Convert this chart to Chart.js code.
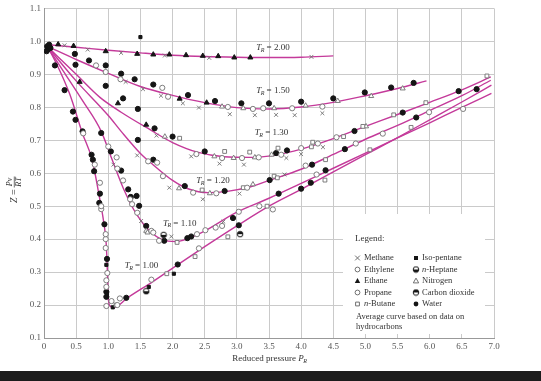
<!DOCTYPE html>
<html><head><meta charset="utf-8">
<script src="https://cdn.jsdelivr.net/npm/chart.js@4.4.1/dist/chart.umd.min.js"></script>
<style>
html,body{margin:0;padding:0;background:#fff;}
#wrap{width:541px;height:371px;background:#fff;}
#bar{width:541px;height:10px;background:#1c1c1c;}
</style></head><body>
<div id="wrap"><canvas id="c" width="541" height="371"></canvas></div>
<div id="bar"></div>
<script>
// ---- curve data (reduced pressure P_R, compressibility Z) ----
const trLabels = ['2.00','1.50','1.30','1.20','1.10','1.00'];
const tr200P = [0.05,0.5,1.0,1.5,2.0,2.5,3.0,3.5,4.0,4.5];
const tr200Z = [0.99,0.982,0.973,0.965,0.958,0.954,0.952,0.951,0.952,0.956];
const tr150P = [0.05,0.5,1.0,1.5,2.0,2.5,3.0,3.5,4.0,4.5,5.0,5.5,5.95];
const tr150Z = [0.985,0.945,0.903,0.863,0.836,0.814,0.799,0.795,0.801,0.815,0.835,0.857,0.88];
const tr130P = [0.05,0.5,0.87,1.2,1.65,2.0,2.4,2.8,3.2,3.6,4.0,4.5,5.0,5.5,6.0,6.5,6.95];
const tr130Z = [0.985,0.9,0.83,0.785,0.732,0.693,0.663,0.65,0.648,0.655,0.673,0.705,0.742,0.778,0.815,0.853,0.892];
const tr120P = [0.05,0.5,1.0,1.2,1.5,1.7,2.0,2.25,2.55,2.85,3.2,3.5,4.0,4.5,5.0,5.5,6.0,6.5,6.95];
const tr120Z = [0.985,0.88,0.775,0.727,0.66,0.625,0.578,0.552,0.541,0.545,0.558,0.578,0.612,0.657,0.703,0.745,0.79,0.835,0.882];
const tr110P = [0.05,0.3,0.6,0.89,1.05,1.23,1.44,1.645,1.85,2.05,2.42,3.0,3.5,4.0,4.5,5.0,5.5,6.0,6.5,6.96];
const tr110Z = [0.985,0.91,0.82,0.727,0.646,0.556,0.475,0.425,0.398,0.393,0.417,0.482,0.524,0.569,0.615,0.661,0.707,0.753,0.8,0.842];
const tr100P = [0.05,0.2,0.4,0.6,0.75,0.85,0.93,0.97,0.99,1.0,1.03,1.08,1.3,1.7,2.1,2.5,3.0,3.5,4.0,4.5,5.0,5.5,6.0,6.5,6.96];
const tr100Z = [0.985,0.93,0.84,0.72,0.64,0.54,0.45,0.38,0.28,0.22,0.197,0.192,0.222,0.272,0.325,0.377,0.44,0.5,0.551,0.604,0.656,0.708,0.762,0.816,0.867];

// ---- measured data points [P_R, Z] ----
const seriesNames = ['Methane','Ethylene','Ethane','Propane','n-Butane','Iso-pentane','n-Heptane','Nitrogen','Carbon dioxide','Water'];
const methane = [[0.32,0.988],[0.68,0.975],[1.2,0.965],[1.88,0.957],[2.57,0.95],[4.16,0.953],
 [1.27,0.877],[1.54,0.855],[1.82,0.835],[2.16,0.812],[2.41,0.799],[2.89,0.779],[3.28,0.776],[3.61,0.777],[3.9,0.776],[4.33,0.782],
 [1.75,0.714],[2.29,0.651],[2.73,0.629],[3.11,0.626],[3.77,0.646],[4.0,0.658],[4.34,0.679],
 [1.45,0.654],[1.95,0.556],[2.47,0.521],[3.04,0.538],[3.74,0.596],
 [1.08,0.626],[1.51,0.455],[1.98,0.408],[2.79,0.453]];
const ethylene = [[0.81,0.927],[1.19,0.885],[1.84,0.859],[2.86,0.801],[3.41,0.797],[4.33,0.802],
 [2.37,0.658],[2.77,0.646],[3.08,0.646],[3.34,0.648],[3.69,0.656],[4.26,0.69],[4.55,0.709],
 [1.62,0.636],[2.32,0.541],[2.68,0.539],[3.16,0.556],[4.07,0.623],[4.85,0.69],[5.99,0.785],
 [1.0,0.681],[1.14,0.614],[1.37,0.506],[1.7,0.42],[2.38,0.415],[2.67,0.435],[3.03,0.483],
 [0.61,0.721],[0.79,0.626],[0.89,0.5],[0.96,0.415],[0.96,0.373],[0.97,0.275],[0.97,0.197],[1.14,0.2]];
const ethane = [[0.22,0.991],[0.46,0.986],[0.96,0.97],[1.45,0.962],[1.7,0.96],[1.95,0.96],[2.21,0.958],[2.47,0.956],[2.71,0.955],[2.96,0.951],[3.21,0.951],
 [2.11,0.826],[2.53,0.814],[1.15,0.812],[1.59,0.747],[0.555,0.877]];
const propane = [[0.96,0.907],[1.93,0.832],[3.25,0.795],[3.86,0.797],[4.0,0.676],[1.76,0.632],[1.85,0.591],[5.27,0.72],
 [1.13,0.648],[1.23,0.578],[1.34,0.521],[1.45,0.48],[1.67,0.425],[1.79,0.395],[2.51,0.427],[2.77,0.44],[4.24,0.596],[6.52,0.795],
 [0.87,0.571],[0.89,0.491],[0.96,0.4],[0.985,0.297],[0.97,0.255],[1.05,0.212],[1.18,0.22],[1.67,0.277],[2.41,0.372],[3.35,0.5],[3.56,0.49]];
const nButane = [[2.11,0.706],[2.81,0.666],[3.2,0.664],[3.64,0.676],[4.16,0.68],[4.18,0.694],[4.66,0.711],[4.96,0.742],[5.44,0.777],[5.94,0.814],[6.89,0.895],
 [2.46,0.549],[3.1,0.556],[3.58,0.591],[3.63,0.586],[4.38,0.641],
 [2.07,0.39],[2.86,0.407],[1.91,0.295],[2.35,0.347],[3.47,0.5],[4.37,0.579],[5.07,0.671],[5.71,0.739],[1.12,0.2]];
const isoPentane = [[1.5,1.013],[0.97,0.322],[1.07,0.193],[1.63,0.255],[2.02,0.295],[0.98,0.235]];
const nHeptane = [[1.86,0.413],[1.59,0.242]];
const nitrogen = [[2.77,0.802],[3.1,0.797],[3.58,0.797],[4.07,0.805],[4.57,0.819],[5.09,0.834],[5.58,0.857],
 [1.88,0.711],[2.65,0.651],[2.95,0.646],[3.28,0.648],[3.54,0.656],[5.01,0.742],
 [2.1,0.554],[2.58,0.539],[3.25,0.566],[1.59,0.425],[1.61,0.42]];
const carbonDioxide = [[3.05,0.415]];
const water = [[0.05,0.985],[0.06,0.975],[0.08,0.99],[0.1,0.98],[0.04,0.97],
 [0.48,0.962],[0.7,0.942],[0.96,0.927],[1.2,0.902],[1.41,0.885],[1.7,0.869],[2.24,0.837],[2.66,0.819],[3.07,0.812],[3.5,0.812],[4.0,0.817],[4.5,0.827],[4.99,0.845],[5.4,0.86],[5.75,0.874],
 [0.96,0.865],[1.23,0.827],[1.46,0.795],[1.72,0.736],[2.0,0.711],[2.5,0.666],[3.61,0.661],[3.78,0.669],[4.83,0.728],[5.58,0.784],[6.45,0.849],
 [0.49,0.929],[1.46,0.701],[1.7,0.641],[2.19,0.561],[2.81,0.546],[3.51,0.579],[4.17,0.626],[4.68,0.673],[5.79,0.769],
 [0.89,0.722],[1.04,0.666],[1.2,0.608],[1.31,0.551],[1.35,0.528],[1.44,0.531],[1.48,0.501],[1.59,0.44],[1.87,0.395],[2.23,0.403],[2.29,0.408],[2.94,0.464],[3.65,0.538],[4.15,0.571],[4.38,0.609],[6.73,0.855],
 [0.17,0.927],[0.32,0.852],[0.45,0.787],[0.49,0.762],[0.6,0.727],[0.74,0.656],[0.76,0.641],[0.78,0.606],[0.86,0.51],[0.87,0.538],[0.94,0.445],[0.98,0.34],[0.97,0.24],[0.97,0.225],[1.28,0.222],[2.08,0.323],[3.03,0.442],[4.0,0.553]];

// ---- styling ----
const SERIF = '"Liberation Serif","Times New Roman",serif';
const CURVE = '#c43a9a';
const DARK = '#151515';
const GREY = '#707070';

function halfCircle(fillTop){
  const c = document.createElement('canvas'); c.width = 8; c.height = 8;
  const g = c.getContext('2d');
  g.beginPath(); g.arc(4,4,2.8,0,Math.PI*2); g.fillStyle='#fff'; g.fill();
  g.beginPath();
  if (fillTop) g.arc(4,4,2.8,Math.PI,0); else g.arc(4,4,2.8,0,Math.PI);
  g.closePath(); g.fillStyle=DARK; g.fill();
  g.beginPath(); g.arc(4,4,2.8,0,Math.PI*2); g.strokeStyle=DARK; g.lineWidth=1; g.stroke();
  return c;
}
const heptImg = halfCircle(false);
const co2Img = halfCircle(true);

const pts = a => a.map(p => ({x:p[0], y:p[1]}));
const zip = (P,Z) => P.map((p,i)=>({x:p,y:Z[i]}));

function curve(P,Z){
  return {data:zip(P,Z), showLine:true, borderColor:CURVE, borderWidth:1.4, pointRadius:0,
    cubicInterpolationMode:'monotone', fill:false, order:2};
}
function scat(arr, style, bg, border, r, bw){
  return {data:pts(arr), showLine:false, pointStyle:style, pointBackgroundColor:bg, pointBorderColor:border,
    pointRadius:r, pointBorderWidth:bw, order:1};
}

const curves = [[tr200P,tr200Z],[tr150P,tr150Z],[tr130P,tr130Z],[tr120P,tr120Z],[tr110P,tr110Z],[tr100P,tr100Z]];
const datasets = curves.map(c=>curve(c[0],c[1])).concat([
  scat(methane,'crossRot','#fff',GREY,2.7,0.9),
  scat(ethylene,'circle','#fff',GREY,2.6,0.9),
  scat(ethane,'triangle',DARK,DARK,2.9,1),
  scat(propane,'circle','#fff',GREY,2.6,0.9),
  scat(nButane,'rect','#fff',GREY,2.7,0.9),
  scat(isoPentane,'rect',DARK,DARK,2.2,1),
  scat(nHeptane,heptImg,DARK,DARK,2.7,1),
  scat(nitrogen,'triangle','#fff',GREY,2.9,0.9),
  scat(carbonDioxide,co2Img,DARK,DARK,2.7,1),
  scat(water,'circle',DARK,DARK,2.6,1)
]);

// curve label anchors (data units)
const labelAnchors = [[3.3,0.98],[3.3,0.851],[3.28,0.723],[2.37,0.577],[1.85,0.448],[1.255,0.32]];

function drawTR(ctx, x, y, val){
  ctx.textBaseline='middle'; ctx.textAlign='left'; ctx.fillStyle='#333';
  ctx.font = 'italic 9px '+SERIF; ctx.fillText('T', x, y);
  let w = ctx.measureText('T').width;
  ctx.font = 'italic 6px '+SERIF; ctx.fillText('R', x+w-0.5, y+2.5);
  w += ctx.measureText('R').width;
  ctx.font = '9px '+SERIF; ctx.fillText(' = '+val, x+w-0.5, y);
}

function drawSym(ctx, type, x, y){
  ctx.save(); ctx.lineWidth=1;
  const r=2.4;
  ctx.beginPath();
  if (type==='cross'){ ctx.strokeStyle=GREY; ctx.moveTo(x-r,y-r); ctx.lineTo(x+r,y+r); ctx.moveTo(x+r,y-r); ctx.lineTo(x-r,y+r); ctx.stroke(); }
  else if (type==='oc'){ ctx.strokeStyle=GREY; ctx.arc(x,y,r,0,Math.PI*2); ctx.stroke(); }
  else if (type==='tri' || type==='otri'){ ctx.moveTo(x,y-r-0.5); ctx.lineTo(x+r+0.3,y+r-0.5); ctx.lineTo(x-r-0.3,y+r-0.5); ctx.closePath();
    if(type==='tri'){ctx.fillStyle=DARK; ctx.fill();} else {ctx.strokeStyle=GREY; ctx.stroke();} }
  else if (type==='sq'){ ctx.strokeStyle=GREY; ctx.rect(x-r+0.5,y-r+0.5,2*r-1,2*r-1); ctx.stroke(); }
  else if (type==='fsq'){ ctx.fillStyle=DARK; ctx.rect(x-2,y-2,4,4); ctx.fill(); }
  else if (type==='dot'){ ctx.fillStyle=DARK; ctx.arc(x,y,r,0,Math.PI*2); ctx.fill(); }
  else if (type==='hept'){ ctx.drawImage(heptImg, x-4, y-4); }
  else if (type==='co2'){ ctx.drawImage(co2Img, x-4, y-4); }
  ctx.restore();
}

const symTypes = ['cross','oc','tri','oc','sq','fsq','hept','otri','co2','dot'];

const annot = {
  id:'annot',
  beforeDatasetsDraw(chart){
    const ctx = chart.ctx;
    ctx.save(); ctx.fillStyle='#fff'; ctx.fillRect(343,214,142,120); ctx.restore();
  },
  afterDatasetsDraw(chart){
    const ctx = chart.ctx, xs = chart.scales.x, ys = chart.scales.y;
    ctx.save();
    trLabels.forEach((v,i)=>{
      drawTR(ctx, xs.getPixelForValue(labelAnchors[i][0]), ys.getPixelForValue(labelAnchors[i][1]), v);
    });
    ctx.fillStyle='#333'; ctx.textBaseline='middle'; ctx.textAlign='left';
    ctx.font='9px '+SERIF; ctx.fillText('Legend:', 355, 239);
    const rows=[258,269.5,281,292.5,304];
    seriesNames.forEach((n,i)=>{
      const col = i<5?0:1, row = i%5;
      const sx = col?416:357.5, tx = col?422:364, y = rows[row];
      drawSym(ctx, symTypes[i], sx, y);
      ctx.fillStyle='#333';
      if (n.startsWith('n-')){
        ctx.font='italic 8.5px '+SERIF; ctx.fillText('n', tx, y);
        const w = ctx.measureText('n').width;
        ctx.font='8.5px '+SERIF; ctx.fillText(n.slice(1), tx+w, y);
      } else { ctx.font='8.5px '+SERIF; ctx.fillText(n, tx, y); }
    });
    ctx.font='8.5px '+SERIF; ctx.fillStyle='#333';
    ctx.fillText('Average curve based on data on', 356, 316.5);
    ctx.fillText('hydrocarbons', 356, 326.5);
    // x axis title
    const t1='Reduced pressure ';
    ctx.font='9px '+SERIF; const w1=ctx.measureText(t1).width;
    ctx.font='italic 9px '+SERIF; const w2=ctx.measureText('P').width;
    const total=w1+w2+4, x0=270-total/2, yT=359;
    ctx.font='9px '+SERIF; ctx.fillText(t1,x0,yT);
    ctx.font='italic 9px '+SERIF; ctx.fillText('P',x0+w1,yT);
    ctx.font='italic 6px '+SERIF; ctx.fillText('R',x0+w1+w2-0.5,yT+2.5);
    // y axis title, rotated
    ctx.translate(14,190); ctx.rotate(-Math.PI/2);
    ctx.textBaseline='middle';
    ctx.font='italic 10px '+SERIF; ctx.textAlign='left';
    ctx.fillText('Z', -13, 0.5);
    ctx.font='10px '+SERIF; ctx.fillText('=', -5, 0.5);
    ctx.font='italic 8px '+SERIF; ctx.textAlign='center';
    ctx.fillText('Pv', 8, -4.6);
    ctx.fillText('RT', 8, 5.2);
    ctx.strokeStyle='#333'; ctx.lineWidth=0.7; ctx.beginPath(); ctx.moveTo(2.5,0.3); ctx.lineTo(13.5,0.3); ctx.stroke();
    ctx.restore();
  }
};

new Chart(document.getElementById('c'), {
  type:'scatter',
  data:{datasets},
  options:{
    responsive:false, animation:false, devicePixelRatio:1,
    layout:{padding:{left:0,right:47,top:6,bottom:0}},
    plugins:{legend:{display:false}, tooltip:{enabled:false}},
    scales:{
      x:{type:'linear', min:0, max:7, afterFit(s){s.height=33;},
        ticks:{stepSize:0.5, autoSkip:false, maxRotation:0, padding:3, color:'#555', font:{family:SERIF,size:9},
          callback:v=> v===0 ? '0' : Number(v).toFixed(1)},
        grid:{color:'#cacaca', lineWidth:1, drawTicks:false}, border:{color:'#999'}},
      y:{type:'linear', min:0.1, max:1.1, afterFit(s){s.width=44;},
        ticks:{stepSize:0.1, padding:3, color:'#555', font:{family:SERIF,size:9},
          callback:v=> Number(v).toFixed(1)},
        grid:{color:'#cacaca', lineWidth:1, drawTicks:false}, border:{color:'#999'}}
    }
  },
  plugins:[annot]
});
</script></body></html>
